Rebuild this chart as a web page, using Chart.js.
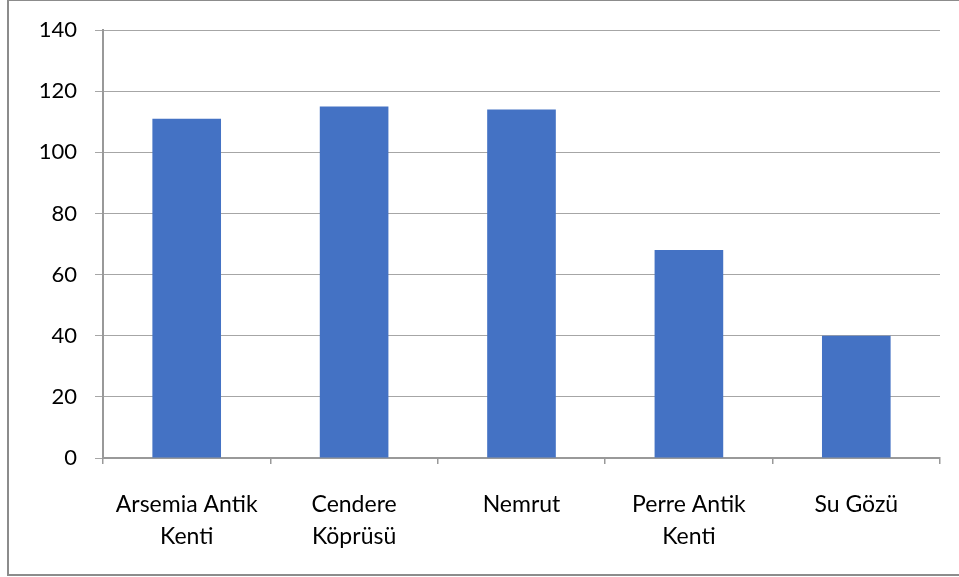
<!DOCTYPE html>
<html>
<head>
<meta charset="utf-8">
<script src="https://cdn.jsdelivr.net/npm/chart.js@4"></script>
<style>
  html, body { margin: 0; padding: 0; background: #fff; }
  #wrap { position: relative; width: 959px; height: 577px; }
  #frame { position: absolute; left: 7px; top: -1px; width: 960px; height: 577px; border: 2px solid #8c8c8c; box-sizing: border-box; }
  canvas { position: absolute; left: 0; top: 0; }
</style>
</head>
<body>
<div id="wrap">
  <div id="frame"></div>
  <canvas id="chart" width="959" height="577"></canvas>
</div>
<script>
// Chart data
const categories = [['Arsemia Antik', 'Kenti'], ['Cendere', 'Köprüsü'], 'Nemrut', ['Perre Antik', 'Kenti'], 'Su Gözü'];
const values = [111, 115, 114, 68, 40];
const yTicks = [0, 20, 40, 60, 80, 100, 120, 140];

const xFont = { family: 'Lato, Open Sans, sans-serif', size: 23, lineHeight: 1.39 };
const yFont = { family: 'Lato, Open Sans, sans-serif', size: 22, lineHeight: 1.05 };

const ctx = document.getElementById('chart').getContext('2d');
new Chart(ctx, {
    type: 'bar',
    data: {
        labels: categories,
        datasets: [{
            data: values,
            backgroundColor: '#4472C4',
            categoryPercentage: 1,
            barPercentage: 0.41
        }]
    },
    options: {
        responsive: false,
        animation: false,
        layout: { padding: { top: 30, right: 19, left: 0, bottom: 0 } },
        plugins: { legend: { display: false }, tooltip: { enabled: false } },
        scales: {
            x: {
                grid: { offset: true, drawOnChartArea: false, tickLength: 6, color: '#999', lineWidth: 1.5 },
                border: { color: '#999', width: 2 },
                ticks: { color: '#000', font: xFont, padding: 25, maxRotation: 0 },
                afterFit: s => { s.height = 577 - 458; }
            },
            y: {
                min: 0,
                max: 140,
                afterBuildTicks: s => { s.ticks = yTicks.map(v => ({ value: v })); },
                grid: { color: '#a6a6a6', lineWidth: 1, tickLength: 8 },
                border: { color: '#999', width: 2 },
                ticks: { color: '#000', font: yFont, padding: 18 },
                afterFit: s => { s.width = 103; }
            }
        }
    }
});
</script>
</body>
</html>
